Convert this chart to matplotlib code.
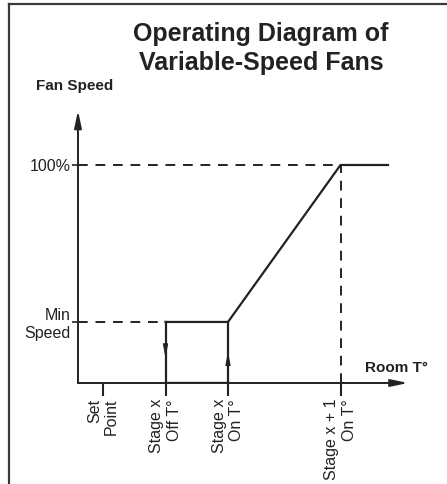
import matplotlib
matplotlib.use("Agg")
import matplotlib.pyplot as plt
from matplotlib.lines import Line2D

plt.rcParams['font.family'] = ['Liberation Sans', 'DejaVu Sans']

# chart values
x_ticks = [1.0, 3.5, 6.0, 10.5]
x_labels = ['Set\nPoint', 'Stage x\nOff T°', 'Stage x\nOn T°', 'Stage x + 1\nOn T°']
y_ticks = [28, 100]
y_labels = ['Min\nSpeed', '100%']

off_t = 3.5        # stage x off
on_t = 6.0         # stage x on
next_on_t = 10.5   # stage x+1 on
end_t = 12.4       # end of drawn curve
min_speed = 28
full_speed = 100

# fan speed curve: min speed plateau, ramp, then full speed
curve_x = [off_t, on_t, next_on_t, end_t]
curve_y = [min_speed, min_speed, full_speed, full_speed]

ink = '#222222'

fig = plt.figure(figsize=(4.47, 4.84), dpi=100)
ax = fig.add_axes([78 / 447, 101 / 484, 350 / 447, 283.4 / 484])
ax.set_xlim(0, 14)
ax.set_ylim(0, 130)
for s in ax.spines.values():
    s.set_visible(False)
ax.patch.set_alpha(0)

# axes with arrows
arrow = dict(arrowstyle='-|>,head_length=0.85,head_width=0.18', mutation_scale=12,
             lw=1.4, color=ink, shrinkA=0, shrinkB=0)
ax.annotate('', xy=(0, 125), xytext=(0, 0), arrowprops=arrow, annotation_clip=False)
ax.annotate('', xy=(13.2, 0), xytext=(0, 0), arrowprops=arrow, annotation_clip=False)

# dashed guides
dash = dict(color=ink, lw=1.4, dashes=(5, 4))
ax.plot([0, off_t], [min_speed, min_speed], **dash)
ax.plot([0, next_on_t], [full_speed, full_speed], **dash)
ax.plot([next_on_t, next_on_t], [0, full_speed], **dash)

# curve and hysteresis loop
ax.plot(curve_x, curve_y, color=ink, lw=1.6, solid_joinstyle='miter')
ax.plot([off_t, off_t], [min_speed, 0], color=ink, lw=1.6)
ax.plot([on_t, on_t], [0, min_speed], color=ink, lw=1.6)
ax.plot([off_t, on_t], [0, 0], color=ink, lw=2.4)
small = dict(arrowstyle='-|>,head_length=0.8,head_width=0.15', mutation_scale=10,
             lw=0.8, color=ink, shrinkA=0, shrinkB=0)
ax.annotate('', xy=(off_t, 11.5), xytext=(off_t, 18), arrowprops=small)
ax.annotate('', xy=(on_t, 14.5), xytext=(on_t, 8), arrowprops=small)

# ticks
ax.set_xticks(x_ticks)
ax.set_xticklabels(x_labels, rotation=90, fontsize=11.5, color=ink)
for lbl in ax.get_xticklabels():
    lbl.set_multialignment('right')
ax.tick_params(axis='x', direction='out', length=9.5, width=1.5, color=ink, pad=2)
ax.set_yticks(y_ticks)
ax.set_yticklabels(y_labels, fontsize=11.5, color=ink)
for lbl in ax.get_yticklabels():
    lbl.set_multialignment('right')
ax.tick_params(axis='y', direction='out', length=4.5, width=1.2, color=ink, pad=1)

# axis titles
fig.text(75 / 447, 1 - 86 / 484, 'Fan Speed', ha='center', va='center',
         fontsize=11, fontweight='bold', color=ink)
fig.text(365 / 447, 1 - 368 / 484, 'Room T°', ha='left', va='center',
         fontsize=11, fontweight='bold', color=ink)

# title
fig.text(261 / 447, 1 - 34 / 484, 'Operating Diagram of', ha='center', va='center',
         fontsize=18, fontweight='bold', color=ink)
fig.text(261 / 447, 1 - 63 / 484, 'Variable-Speed Fans', ha='center', va='center',
         fontsize=18, fontweight='bold', color=ink)

# frame lines (top and left only)
border = '#3a3a3a'
fig.add_artist(Line2D([9 / 447, 1], [1 - 4 / 484, 1 - 4 / 484], color=border, lw=1.6,
                      transform=fig.transFigure))
fig.add_artist(Line2D([9 / 447, 9 / 447], [0, 1 - 4 / 484], color=border, lw=1.6,
                      transform=fig.transFigure))

fig.savefig('out.png', dpi=100)
